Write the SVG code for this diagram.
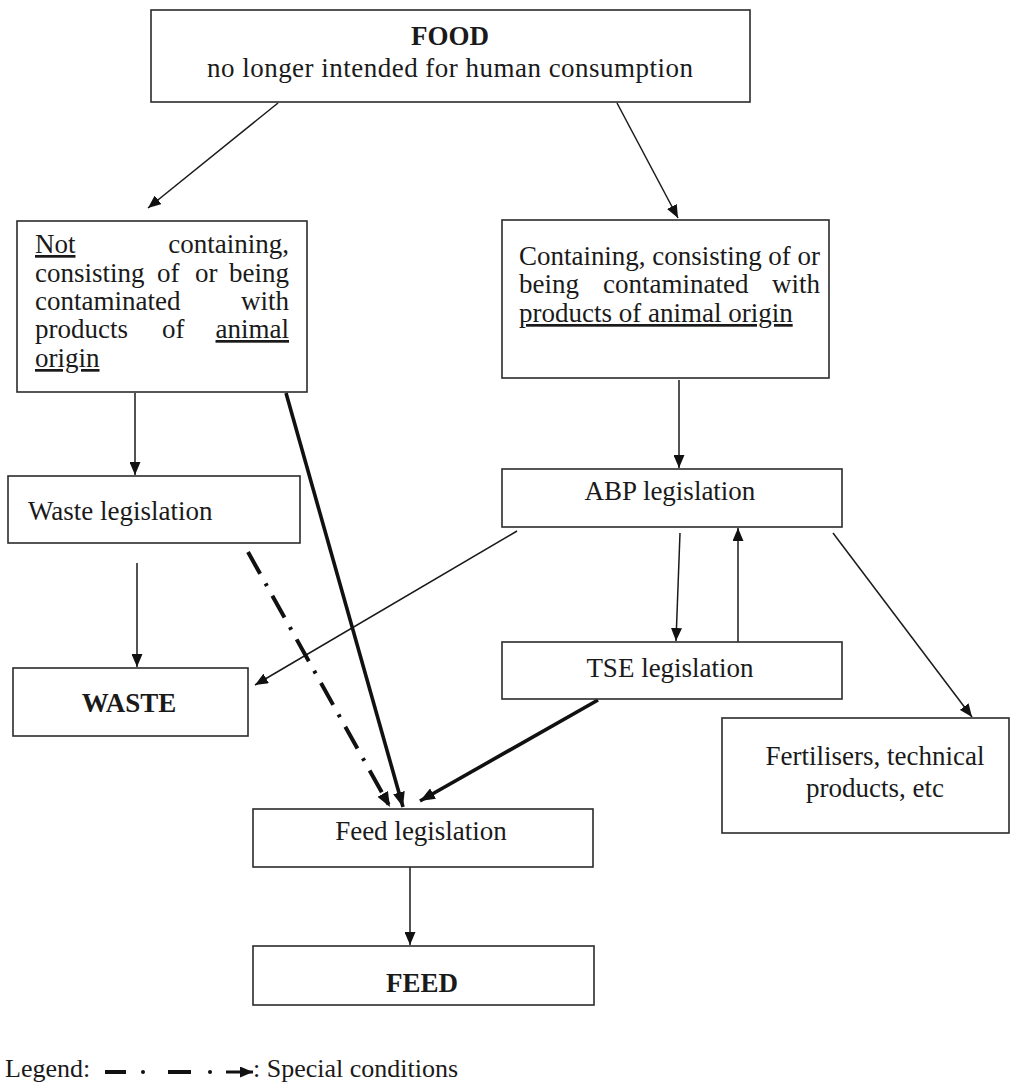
<svg xmlns="http://www.w3.org/2000/svg" width="1019" height="1083" viewBox="0 0 1019 1083">
  <style>
    .box { fill: #ffffff; stroke: #2b2b2b; stroke-width: 1.6; }
    .t { font-family: "Liberation Serif", "Times New Roman", serif; font-size: 27px; fill: #1a1a1a; }
    .b { font-weight: bold; }
    .c { text-anchor: middle; }
    .e { text-anchor: end; }
    .u { text-decoration: underline; }
    .thin { fill: none; stroke: #1a1a1a; stroke-width: 1.5; marker-end: url(#arr); }
    .thick { fill: none; stroke: #111111; stroke-width: 3.6; marker-end: url(#arrBig); }
    .special { fill: none; stroke: #111111; stroke-width: 4; stroke-dasharray: 25 11 3 11; marker-end: url(#arrBig); }
  </style>
  <defs>
    <marker id="arr" markerUnits="userSpaceOnUse" markerWidth="13" markerHeight="11" refX="13" refY="5.5" orient="auto">
      <path d="M0,0 L13,5.5 L0,11 z" fill="#111111"/>
    </marker>
    <marker id="arrBig" markerUnits="userSpaceOnUse" markerWidth="15" markerHeight="12" refX="15" refY="6" orient="auto">
      <path d="M0,0 L15,6 L0,12 z" fill="#111111"/>
    </marker>
  </defs>

  <rect width="1019" height="1083" fill="#ffffff"/>

  <!-- connectors -->
  <g id="connectors">
    <line class="thin" x1="278" y1="103" x2="148" y2="208"/>
    <line class="thin" x1="617" y1="103" x2="678" y2="218"/>
    <line class="thin" x1="135" y1="393" x2="135" y2="475"/>
    <line class="thin" x1="679" y1="380" x2="679" y2="468"/>
    <line class="thin" x1="137" y1="563" x2="137" y2="667"/>
    <line class="thin" x1="517" y1="531" x2="255" y2="685"/>
    <line class="thin" x1="680" y1="533" x2="676" y2="641"/>
    <line class="thin" x1="738" y1="642" x2="738" y2="528"/>
    <line class="thin" x1="833" y1="533" x2="972" y2="717"/>
    <line class="thin" x1="410" y1="867" x2="410" y2="945"/>
    <line class="thick" x1="286" y1="393" x2="403" y2="807"/>
    <line class="thick" x1="598" y1="700" x2="420" y2="801"/>
    <line class="special" x1="248" y1="552" x2="390" y2="807"/>
  </g>

  <!-- FOOD -->
  <g id="food">
    <rect class="box" x="151" y="10" width="599" height="92"/>
    <text class="t b c" x="450" y="45">FOOD</text>
    <text class="t c" x="450" y="77" textLength="486" lengthAdjust="spacing">no longer intended for human consumption</text>
  </g>

  <!-- not of animal origin -->
  <g id="not-animal">
    <rect class="box" x="17" y="221" width="290" height="171"/>
    <text class="t u" x="35" y="253">Not</text>
    <text class="t e" x="289" y="253">containing,</text>
    <text class="t" x="35" y="282">consisting</text>
    <text class="t" x="157" y="282">of</text>
    <text class="t" x="195" y="282">or</text>
    <text class="t e" x="289" y="282">being</text>
    <text class="t" x="35" y="310">contaminated</text>
    <text class="t e" x="289" y="310">with</text>
    <text class="t" x="35" y="338">products</text>
    <text class="t" x="162" y="338">of</text>
    <text class="t e u" x="289" y="338">animal</text>
    <text class="t u" x="35" y="367">origin</text>
  </g>

  <!-- animal origin -->
  <g id="animal">
    <rect class="box" x="502" y="220" width="327" height="158"/>
    <text class="t" x="519" y="265" textLength="301" lengthAdjust="spacing">Containing, consisting of or</text>
    <text class="t" x="519" y="293">being</text>
    <text class="t" x="603" y="293">contaminated</text>
    <text class="t e" x="820" y="293">with</text>
    <text class="t u" x="519" y="322">products of animal origin</text>
  </g>

  <!-- waste legislation -->
  <g id="waste-legislation">
    <rect class="box" x="8" y="476" width="292" height="67"/>
    <text class="t" x="28" y="520">Waste legislation</text>
  </g>

  <!-- ABP legislation -->
  <g id="abp-legislation">
    <rect class="box" x="502" y="469" width="340" height="58"/>
    <text class="t c" x="670" y="500">ABP legislation</text>
  </g>

  <!-- TSE legislation -->
  <g id="tse-legislation">
    <rect class="box" x="502" y="642" width="340" height="57"/>
    <text class="t c" x="670" y="677">TSE legislation</text>
  </g>

  <!-- WASTE -->
  <g id="waste">
    <rect class="box" x="13" y="668" width="235" height="68"/>
    <text class="t b c" x="129" y="712">WASTE</text>
  </g>

  <!-- fertilisers -->
  <g id="fertilisers">
    <rect class="box" x="722" y="718" width="287" height="115"/>
    <text class="t c" x="875" y="765">Fertilisers, technical</text>
    <text class="t c" x="875" y="797">products, etc</text>
  </g>

  <!-- feed legislation -->
  <g id="feed-legislation">
    <rect class="box" x="253" y="809" width="340" height="58"/>
    <text class="t c" x="421" y="840">Feed legislation</text>
  </g>

  <!-- FEED -->
  <g id="feed">
    <rect class="box" x="253" y="946" width="341" height="59"/>
    <text class="t b c" x="422" y="992">FEED</text>
  </g>

  <!-- legend -->
  <g id="legend">
    <text class="t" x="5" y="1077" style="font-size:26px">Legend:</text>
    <line x1="105" y1="1072" x2="126" y2="1072" stroke="#111111" stroke-width="4"/>
    <circle cx="143" cy="1072" r="2" fill="#111111"/>
    <line x1="168" y1="1072" x2="191" y2="1072" stroke="#111111" stroke-width="4"/>
    <circle cx="210" cy="1072" r="2" fill="#111111"/>
    <line x1="226" y1="1072" x2="253" y2="1072" stroke="#111111" stroke-width="3" marker-end="url(#arr)"/>
    <text class="t" x="253" y="1077" style="font-size:26px">: Special conditions</text>
  </g>
</svg>
